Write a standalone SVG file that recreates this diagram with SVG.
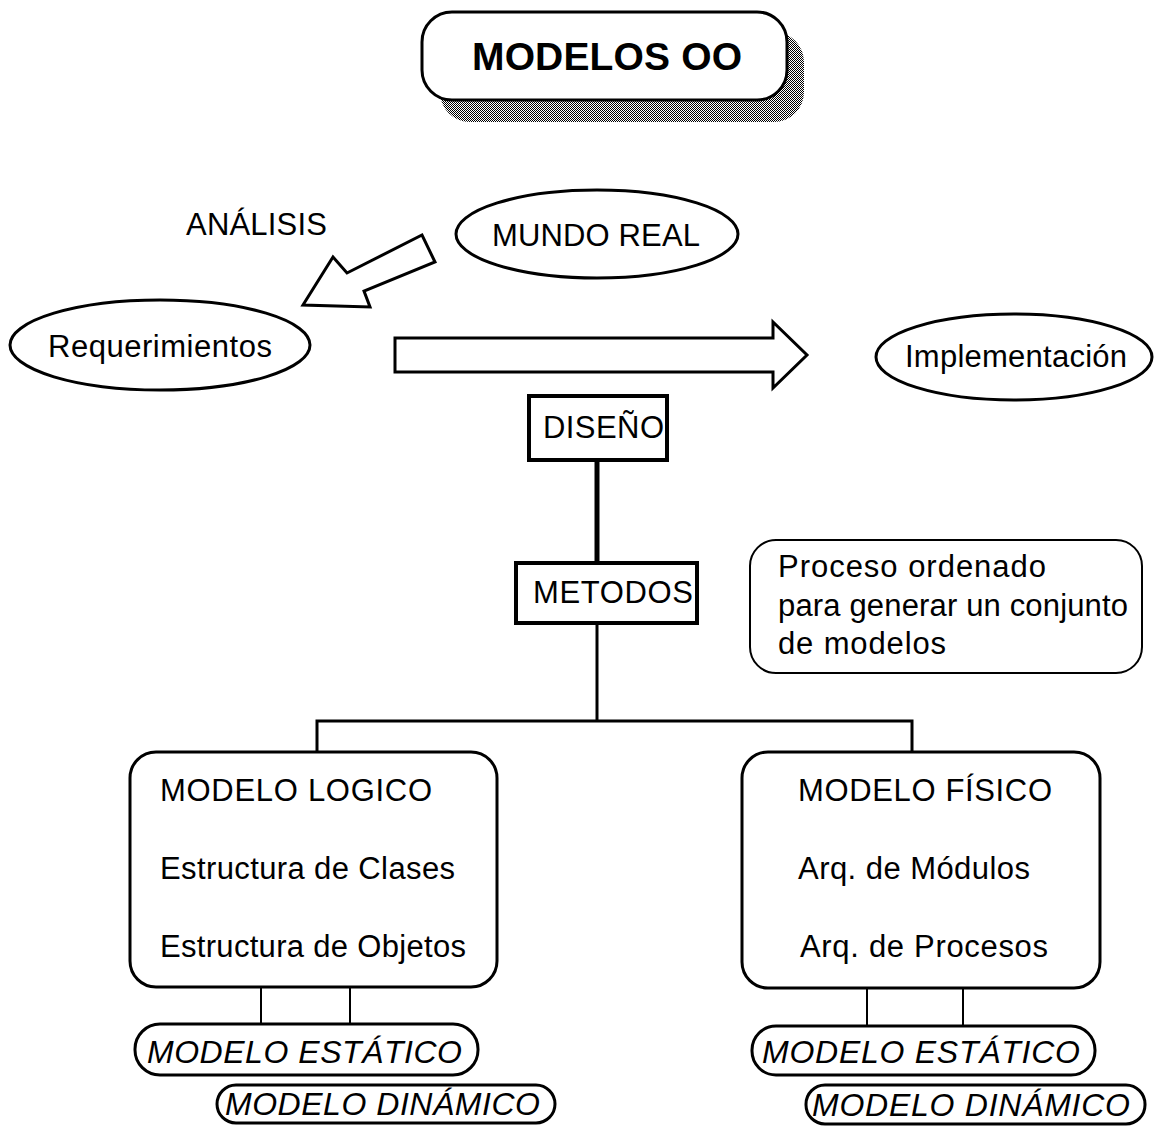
<svg xmlns="http://www.w3.org/2000/svg" width="1155" height="1129" viewBox="0 0 1155 1129">
  <style>
    .t { font-family: "Liberation Sans", Arial, sans-serif; font-size: 31px; fill: #000; }
    .ti { font-family: "Liberation Sans", Arial, sans-serif; font-size: 32px; font-style: italic; fill: #000; }
    .title { font-family: "Liberation Sans", Arial, sans-serif; font-size: 39px; font-weight: bold; fill: #000; }
    .sh { fill: #fff; stroke: #000; stroke-width: 3; }
    .bx { fill: #fff; stroke: #000; stroke-width: 4; }
    .ln { fill: none; stroke: #000; stroke-width: 3; }
    .thin { fill: none; stroke: #000; stroke-width: 2; }
  </style>
  <defs>
    <!-- stippled drop shadow -->
    <pattern id="stipple" width="2" height="2" patternUnits="userSpaceOnUse">
      <rect x="0" y="0" width="1" height="1" fill="#000"/>
      <rect x="1" y="1" width="1" height="1" fill="#000"/>
    </pattern>
  </defs>

  <rect width="1155" height="1129" fill="#fff"/>

  <!-- title -->
  <g id="title">
    <rect x="440" y="32" width="364" height="90" rx="30" fill="url(#stipple)"/>
    <rect x="422" y="12" width="365" height="88" rx="30" class="sh"/>
    <text x="472" y="70" class="title" textLength="270" lengthAdjust="spacing">MODELOS OO</text>
  </g>

  <!-- connectors -->
  <g id="connectors">
    <!-- analysis block arrow -->
    <polygon points="303,305 333,257 347,273 422,235 435,262 364,291 370,307" class="sh"/>
    <!-- design block arrow -->
    <polygon points="395,338 773,338 773,322 807,355 773,388 773,372 395,372" class="sh"/>
    <!-- hierarchy -->
    <line x1="597" y1="460" x2="597" y2="563" stroke="#000" stroke-width="5"/>
    <line x1="597" y1="623" x2="597" y2="721" class="ln"/>
    <polyline points="317,752 317,721 912,721 912,752" class="ln"/>
    <!-- drops to model views -->
    <line x1="261" y1="987" x2="261" y2="1024" class="thin"/>
    <line x1="350" y1="987" x2="350" y2="1024" class="thin"/>
    <line x1="867" y1="988" x2="867" y2="1026" class="thin"/>
    <line x1="963" y1="988" x2="963" y2="1026" class="thin"/>
  </g>

  <g id="analisis-label">
    <text x="186" y="235" class="t" textLength="141" lengthAdjust="spacing">ANÁLISIS</text>
  </g>

  <g id="mundo-real">
    <ellipse cx="597" cy="234" rx="141" ry="44" class="sh"/>
    <text x="492" y="246" class="t" textLength="208" lengthAdjust="spacing">MUNDO REAL</text>
  </g>

  <g id="requerimientos">
    <ellipse cx="160" cy="345" rx="150" ry="45" class="sh"/>
    <text x="48" y="357" class="t" textLength="224" lengthAdjust="spacing">Requerimientos</text>
  </g>

  <g id="implementacion">
    <ellipse cx="1014" cy="357" rx="138" ry="43" class="sh"/>
    <text x="905" y="367" class="t" textLength="222" lengthAdjust="spacing">Implementación</text>
  </g>

  <g id="diseno">
    <rect x="529" y="396" width="138" height="64" class="bx"/>
    <text x="543" y="438" class="t" textLength="121" lengthAdjust="spacing">DISEÑO</text>
  </g>

  <g id="metodos">
    <rect x="516" y="563" width="181" height="60" class="bx"/>
    <text x="533" y="603" class="t" textLength="160" lengthAdjust="spacing">METODOS</text>
  </g>

  <g id="nota-metodos">
    <rect x="750" y="540" width="392" height="133" rx="26" class="thin"/>
    <text x="778" y="577" class="t" textLength="268" lengthAdjust="spacing">Proceso ordenado</text>
    <text x="778" y="616" class="t" textLength="350" lengthAdjust="spacing">para generar un conjunto</text>
    <text x="778" y="654" class="t" textLength="168" lengthAdjust="spacing">de modelos</text>
  </g>

  <g id="modelo-logico">
    <rect x="130" y="752" width="367" height="235" rx="26" class="sh"/>
    <text x="160" y="801" class="t" textLength="272" lengthAdjust="spacing">MODELO LOGICO</text>
    <text x="160" y="879" class="t" textLength="295" lengthAdjust="spacing">Estructura de Clases</text>
    <text x="160" y="957" class="t" textLength="306" lengthAdjust="spacing">Estructura de Objetos</text>
  </g>

  <g id="modelo-fisico">
    <rect x="742" y="752" width="358" height="236" rx="26" class="sh"/>
    <text x="798" y="801" class="t" textLength="254" lengthAdjust="spacing">MODELO FÍSICO</text>
    <text x="798" y="879" class="t" textLength="232" lengthAdjust="spacing">Arq. de Módulos</text>
    <text x="800" y="957" class="t" textLength="248" lengthAdjust="spacing">Arq. de Procesos</text>
  </g>

  <g id="logico-estatico">
    <rect x="135" y="1024" width="343" height="51" rx="25" class="sh"/>
    <text x="147" y="1063" class="ti" textLength="315" lengthAdjust="spacing">MODELO ESTÁTICO</text>
  </g>
  <g id="logico-dinamico">
    <rect x="217" y="1085" width="338" height="38" rx="19" class="sh"/>
    <text x="225" y="1115" class="ti" textLength="315" lengthAdjust="spacing">MODELO DINÁMICO</text>
  </g>

  <g id="fisico-estatico">
    <rect x="752" y="1026" width="343" height="49" rx="24" class="sh"/>
    <text x="762" y="1063" class="ti" textLength="318" lengthAdjust="spacing">MODELO ESTÁTICO</text>
  </g>
  <g id="fisico-dinamico">
    <rect x="806" y="1085" width="339" height="39" rx="19" class="sh"/>
    <text x="812" y="1116" class="ti" textLength="318" lengthAdjust="spacing">MODELO DINÁMICO</text>
  </g>
</svg>
